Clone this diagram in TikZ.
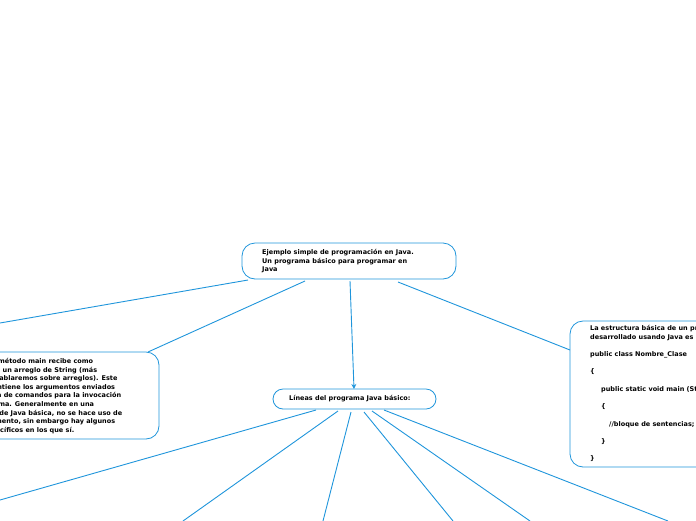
\documentclass[tikz,border=0pt]{standalone}
\usepackage{fontspec}
\setmainfont{DejaVu Sans}
\usetikzlibrary{arrows.meta}
\begin{document}
\begin{tikzpicture}[x=1pt,y=-1pt,
  box/.style={draw=lk,line width=0.8pt,rounded corners=13pt,fill=white},
  lnk/.style={draw=lk,line width=0.9pt},
  txt/.style={anchor=west,inner sep=0pt,font=\fontsize{6.5}{8.6}\selectfont\bfseries,align=left}]
\definecolor{lk}{HTML}{1F95DB}
\useasboundingbox (0,0) rectangle (696,520);
\clip (0,0) rectangle (696,520);
\coordinate (e1) at (0,323);
\coordinate (f1) at (0,500);
\coordinate (f2) at (183,521);
\coordinate (f3) at (323,521);
\coordinate (f4) at (453,521);
\coordinate (f5) at (530,521);
\coordinate (f6) at (668,521);
\draw[box] (242,243) rectangle (456,279);
\node[txt,anchor=north west] (root) at (262,249) {Ejemplo simple de programación en Java.\\Un programa básico para programar en\\Java};
\draw[box] (-20,352) rectangle (159,439);
\node[txt,anchor=north west] (left) at (-40,358) {En Java el método main recibe como\\argumento un arreglo de String (más\\adelante hablaremos sobre arreglos). Este\\arreglo contiene los argumentos enviados\\por la línea de comandos para la invocación\\del programa. Generalmente en una\\aplicación de Java básica, no se hace uso de\\este argumento, sin embargo hay algunos\\casos específicos en los que sí.};
\draw[box] (570,321) rectangle (760,467);
\node[txt,anchor=north west] (right) at (590,325) {La estructura básica de un programa\\desarrollado usando Java es la siguiente:\\[8.8pt]public class Nombre\_Clase\\[8.8pt]\{\\[8.8pt]\hspace{11pt}public static void main (String args[])\\[8.8pt]\hspace{11pt}\{\\[8.8pt]\hspace{19pt}//bloque de sentencias;\\[8.8pt]\hspace{11pt}\}\\[8.8pt]\}};
\draw[box,rounded corners=10pt] (273,389) rectangle (436,409);
\node[txt] (lin) at (289,399) {Líneas del programa Java básico:};
\coordinate (r1) at (248,280); \coordinate (r2) at (305,281);
\coordinate (r3) at (350,281); \coordinate (r4) at (398,282);
\coordinate (lb) at (148,352); \coordinate (rb) at (570,350);
\coordinate (lt) at (354,389);
\draw[lnk] (r1) -- (e1);
\draw[lnk] (r2) -- (lb);
\draw[lnk] (r4) -- (rb);
\draw[lnk,-{Stealth[length=5pt,width=5pt]}] (r3) -- (lt);
\coordinate (l1) at (316,410); \coordinate (l2) at (338,411);
\coordinate (l3) at (351,412); \coordinate (l4) at (364,412);
\coordinate (l5) at (372,411); \coordinate (l6) at (384,410);
\draw[lnk] (l1) -- (f1); \draw[lnk] (l2) -- (f2); \draw[lnk] (l3) -- (f3);
\draw[lnk] (l4) -- (f4); \draw[lnk] (l5) -- (f5); \draw[lnk] (l6) -- (f6);
\end{tikzpicture}
\end{document}
